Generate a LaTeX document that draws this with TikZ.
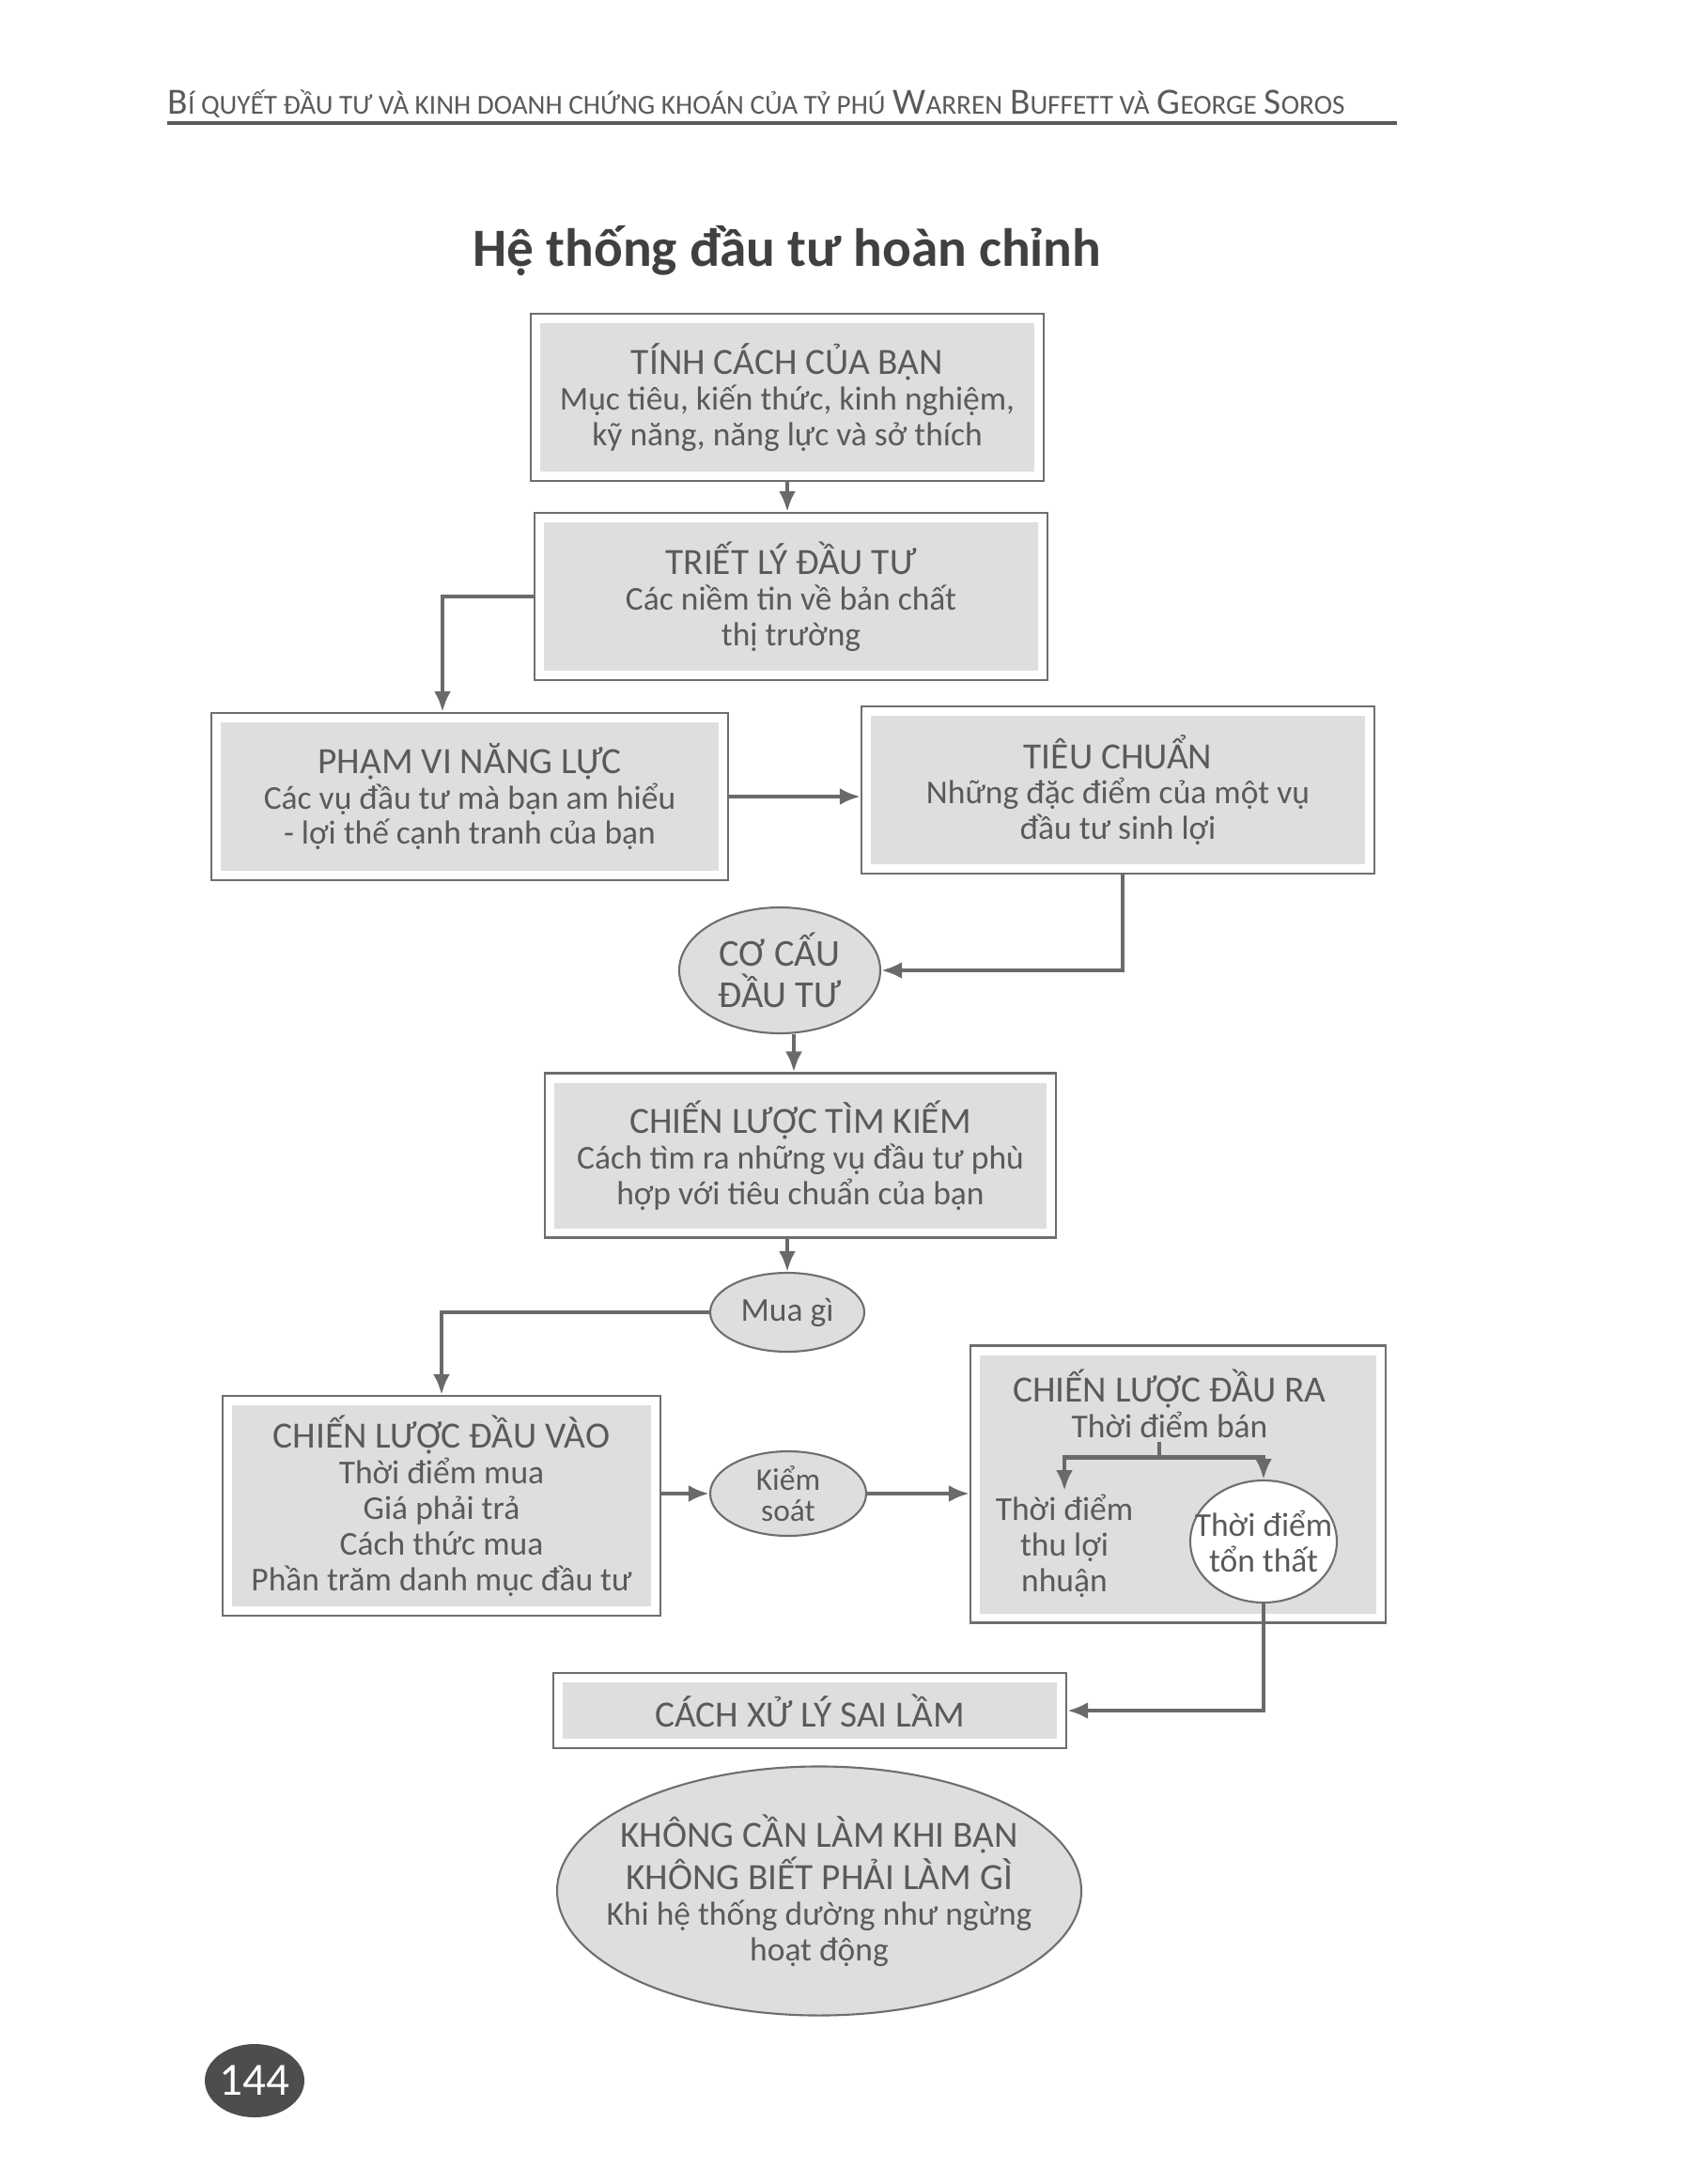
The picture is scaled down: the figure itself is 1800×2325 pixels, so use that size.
\documentclass[tikz,border=0pt]{standalone}
\usepackage{fontspec}
\setmainfont{Carlito}
\usetikzlibrary{shapes.geometric,arrows.meta,positioning,calc}

\definecolor{boxgrey}{HTML}{DEDEDE}
\definecolor{framegrey}{HTML}{6E6E6E}
\definecolor{textgrey}{HTML}{5A5A5A}
\definecolor{linegrey}{HTML}{6A6A6A}
\definecolor{pagegrey}{HTML}{4D4D4D}

\newcommand{\hd}[1]{{\fontsize{11.2}{11}\selectfont #1}}
\newcommand{\hdbig}[1]{{\fontsize{11.2}{11}\selectfont #1}}
\newcommand{\hdsm}[1]{{\fontsize{8.3}{11}\selectfont #1}}

\begin{document}
\begin{tikzpicture}[x=0.1mm,y=-0.1mm]
		\useasboundingbox (0,0) rectangle (1800,2325);
		
		\tikzstyle{stage} = [draw=framegrey,line width=0.6pt,fill=white,minimum width=54.6mm,minimum height=17.8mm,inner sep=0pt,align=center,text=textgrey,font=\fontsize{10.1}{10.8}\selectfont,path picture={\fill[boxgrey] ([shift={(1mm,-1mm)}]path picture bounding box.north west) rectangle ([shift={(-1mm,1mm)}]path picture bounding box.south east);}]
		\tikzstyle{oval} = [ellipse,draw=framegrey,line width=0.6pt,fill=boxgrey,inner sep=0pt,align=center,text=textgrey,font=\fontsize{10.1}{10.8}\selectfont]
		\tikzstyle{note} = [align=center,text=textgrey,inner sep=1pt,font=\fontsize{10.1}{10.8}\selectfont]
		\tikzstyle{myarrow} = [-{Latex[length=2.2mm,width=1.8mm]},line width=1.3pt,draw=linegrey]
		\tikzstyle{myline} = [line width=1.3pt,draw=linegrey]
		
		% Page header and title
		\node [anchor=base west, inner sep=0pt, text=textgrey] (header) at (178,122) {\hdbig{B}\hdsm{Í QUYẾT ĐẦU TƯ VÀ KINH DOANH CHỨNG KHOÁN CỦA TỶ PHÚ} \hdbig{W}\hdsm{ARREN} \hdbig{B}\hdsm{UFFETT VÀ} \hdbig{G}\hdsm{EORGE} \hdbig{S}\hdsm{OROS}};
		\draw [line width=1pt, textgrey] (178,131) -- (1487,131);
		\node [text=black!75, font=\fontsize{16.3}{19}\selectfont\bfseries] (title) at (838,267) {Hệ thống đầu tư hoàn chỉnh};
		
		% Nodes
		\node [stage] (character) at (838,423) {\hd{TÍNH CÁCH CỦA BẠN}\\Mục tiêu, kiến thức, kinh nghiệm,\\kỹ năng, năng lực và sở thích};
		\node [stage] (philosophy) at (842,635) {\hd{TRIẾT LÝ ĐẦU TƯ}\\Các niềm tin về bản chất\\thị trường};
		\node [stage, minimum width=55mm] (competence) at (500,848) {\hd{PHẠM VI NĂNG LỰC}\\Các vụ đầu tư mà bạn am hiểu\\- lợi thế cạnh tranh của bạn};
		\node [stage] (criteria) at (1190,841) {\hd{TIÊU CHUẨN}\\Những đặc điểm của một vụ\\đầu tư sinh lợi};
		\node [oval, minimum width=21.4mm, minimum height=13.4mm, font=\fontsize{11.5}{12.5}\selectfont] (structure) at (830,1033) {CƠ CẤU\\ĐẦU TƯ};
		\node [stage, minimum width=54.4mm, minimum height=17.5mm] (search) at (852,1230) {\hd{CHIẾN LƯỢC TÌM KIẾM}\\Cách tìm ra những vụ đầu tư phù\\hợp với tiêu chuẩn của bạn};
		\node [oval, minimum width=16.4mm, minimum height=8.4mm] (what) at (838,1397) {Mua gì};
		\node [stage, minimum width=46.6mm, minimum height=23.4mm] (entry) at (470,1603) {\hd{CHIẾN LƯỢC ĐẦU VÀO}\\Thời điểm mua\\Giá phải trả\\Cách thức mua\\Phần trăm danh mục đầu tư};
		\node [oval, minimum width=16.6mm, minimum height=9mm, font=\fontsize{9.5}{9.5}\selectfont] (control) at (839,1590) {Kiểm\\soát};
		
		% Exit strategy with its two branches inside
		\node [stage, minimum width=44.2mm, minimum height=29.5mm] (exit) at (1254,1580) {};
		\node [note] (exittitle) at (1245,1494) {\hd{CHIẾN LƯỢC ĐẦU RA}\\Thời điểm bán};
		\node [note] (profit) at (1133,1646) {Thời điểm\\thu lợi\\nhuận};
		\node [oval, fill=white, minimum width=15.6mm, minimum height=13mm, inner xsep=-1.95mm, inner ysep=0.5mm] (loss) at (1345,1641) {Thời điểm\\tổn thất};
		
		\node [stage, minimum height=8mm] (mistakes) at (862,1821) {\hd{CÁCH XỬ LÝ SAI LẦM}};
		\node [oval, minimum width=55.8mm, minimum height=25.8mm, inner xsep=-4.3mm, inner ysep=1.3mm] (nothing) at (872,2013) {\hd{KHÔNG CẦN LÀM KHI BẠN}\\\hd{KHÔNG BIẾT PHẢI LÀM GÌ}\\Khi hệ thống dường như ngừng\\hoạt động};
		
		% Page number
		\node [ellipse, fill=pagegrey, text=white, inner sep=0pt, minimum width=10.6mm, minimum height=7.8mm, font=\fontsize{14}{14}\selectfont] (page) at (271,2215) {144};
		
		% Connectors
		\draw [myarrow] (character.south) -- (character.south |- philosophy.north);
		\draw [myarrow] (philosophy.west) -| ([xshift=-2.9mm]competence.north);
		\draw [myarrow] (competence.east) -- (competence.east -| criteria.west);
		\draw [myarrow] ([xshift=0.5mm]criteria.south) |- (structure.east);
		\draw [myarrow] ([xshift=1.5mm]structure.south) -- ([xshift=1.5mm]structure.south |- search.north);
		\draw [myarrow] (what.north |- search.south) -- (what.north);
		\draw [myarrow] (what.west) -| (entry.north);
		\draw [myarrow] (entry.east |- control.west) -- (control.west);
		\draw [myarrow] (control.east) -- (control.east -| exit.west);
		\draw [myline] ([xshift=-1.1mm]exittitle.south) -- ++(0,17) coordinate (split);
		\draw [myarrow] (split) -| (profit.north);
		\draw [myarrow] (split) -| (loss.north);
		\draw [myarrow] (loss.south) |- (mistakes.east);
	\end{tikzpicture}
\end{document}
